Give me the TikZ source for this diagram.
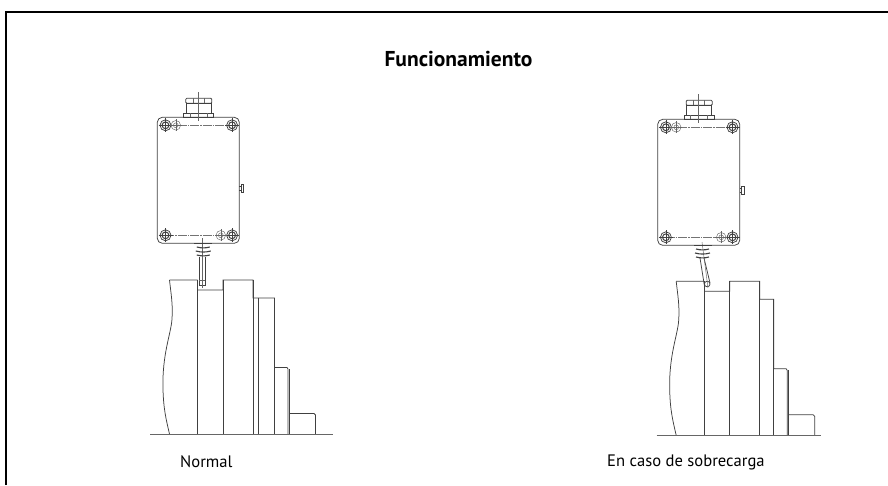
\documentclass[tikz,border=0pt]{standalone}
\usepackage{fontspec}
\setmainfont{PT Sans}
\usetikzlibrary{positioning}
\tikzset{
    line/.style={draw=black!75, line width=.75pt},
    thin line/.style={draw=black!60, line width=.45pt},
    axis line/.style={draw=black!55, line width=.45pt, dash pattern=on 9pt off 1pt on 1.5pt off 1pt},
    frame line/.style={draw=black, line width=1.6pt},
    label text/.style={inner sep=0pt, font=\fontsize{16.6}{20}\selectfont},
    title text/.style={inner sep=0pt, font=\fontsize{21.5}{26}\selectfont\bfseries}
}
% One screw of the box: cross, circle and thread
\newcommand{\screw}[2]{
    \draw[line] (#1, #2) circle (5.5);
    \draw[line, line width=1pt] (#1, #2) circle (3.4);
    \draw[line] (#1-7, #2) -- (#1+7, #2);
    \draw[line] (#1, #2-7) -- (#1, #2+7);
}
% Small hole beside a screw
\newcommand{\hole}[2]{
    \draw[thin line] (#1, #2) circle (4.8);
    \draw[thin line] (#1, #2) circle (2.4);
    \draw[thin line] (#1-6, #2) -- (#1+6, #2);
    \draw[thin line] (#1, #2-6) -- (#1, #2+6);
}
% Box with gland and screws, origin at the top left of the box
\newcommand{\switchbox}{
    \draw[line, rounded corners=5] (0, 0) rectangle (82, 126);
    \draw[axis line] (8, 8) -- (75, 8);
    \draw[axis line] (8, 118) -- (75, 118);
    \screw{8.2}{8}
    \screw{74.8}{8}
    \screw{8.2}{118}
    \screw{74.8}{118}
    \hole{18.5}{8}
    \hole{63.5}{118}
    % gland on the top side
    \draw[line, rounded corners=1] (28.5, -19) rectangle (54.5, -14);
    \draw[line] (29, -14) rectangle (54, -4);
    \draw[line] (26.5, -4) rectangle (56.5, 0);
    \draw[thin line] (36, -19) -- (36, -14) (47, -19) -- (47, -14);
    \draw[thin line] (33, -4) -- (33, 0) (50, -4) -- (50, 0);
    \draw[thin line] (41, -25) -- (41, 4);
    % stud on the right side
    \draw[line] (82, 69) -- (84, 69) (82, 73) -- (84, 73);
    \draw[line] (84, 67) rectangle (86.5, 75);
}
% Machine parts, origin at the left end of the base line
% #1 is where the first step begins
\newcommand{\machine}[1]{
    \draw[line] (19.5, 154) -- (47.5, 154) (47.5, 144) -- (73, 144) -- (73, 154) -- (103, 154) -- (103, 136) -- (#1, 136) -- (#1, 66.5) -- (#1+12.5, 66.5) to[out=0, in=90] (#1+13.5, 65) -- (#1+13.5, 0);
    \draw[line] (19.5, 154) .. controls (21, 140) and (23, 130) .. (22, 115) .. controls (21, 100) and (12, 80) .. (13, 45) .. controls (13.5, 25) and (16, 15) .. (19.5, 0);
    \draw[line] (47.5, 154) -- (47.5, 0);
    \draw[line] (73, 154) -- (73, 0);
    \draw[line] (103, 154) -- (103, 0);
    \draw[line] (#1, 136) -- (#1, 0);
    \draw[line] (#1+15, 65) -- (#1+15, 0);
    \draw[line] (#1+15, 20.5) -- (#1+39.5, 20.5) to[out=0, in=90] (#1+41, 19) -- (#1+41, 0);
}
% Spring of the plunger: three coils round (#1, #2)
\newcommand{\coils}[2]{
    \foreach \dy/\dw in {3.5/6.5, 7.5/7.5, 11.5/6.5}
        \draw[line, line width=1.1pt] (#1-\dw, #2+\dy) to[bend right=14] (#1+\dw, #2+\dy);
}
\begin{document}
\begin{tikzpicture}[x=1pt, y=-1pt]
    \useasboundingbox (0, 0) rectangle (888, 485);

    \draw[frame line] (6, 485) -- (6, 12) -- (888, 12);

    \node[title text] (title) at (458.5, 59) {Funcionamiento};

    % Normal
    \begin{scope}[shift={(157.3, 117.3)}]
        \switchbox
    \end{scope}
    \begin{scope}[shift={(150, 434)}, y=1pt]
        \machine{124.5}
        \draw[line] (108.7, 136) -- (108.7, 0);
        \draw[thin line] (0, 0) -- (182.7, 0);
    \end{scope}
    \draw[line] (199.3, 257) -- (199.3, 285) -- (205.3, 285) -- (205.3, 257);
    \draw[thin line] (199.3, 280) -- (205.3, 280);
    \draw[thin line] (202.3, 238) -- (202.3, 288);
    \draw[line] (194, 243.5) -- (211.5, 243.5);
    \coils{203.3}{243.5}
    \node[label text, anchor=west] (normal) at (180, 462) {Normal};

    % En caso de sobrecarga
    \begin{scope}[shift={(656.7, 435.3)}, y=1pt]
        \machine{117}
        \draw[thin line] (0, 0) -- (164, 0);
    \end{scope}
    \begin{scope}[shift={(657.7, 119.3)}]
        \switchbox
    \end{scope}
    \draw[line] (700, 258) -- (704.3, 285) (704, 258) -- (710, 283);
    \draw[line] (707.2, 284) circle (2.8);
    \draw[thin line] (702, 242) -- (708, 288);
    \draw[line] (694, 245.5) -- (711.5, 245.5);
    \coils{702.5}{245.5}
    \node[label text, anchor=west] (sobrecarga) at (607, 462) {En caso de sobrecarga};

\end{tikzpicture}
\end{document}
